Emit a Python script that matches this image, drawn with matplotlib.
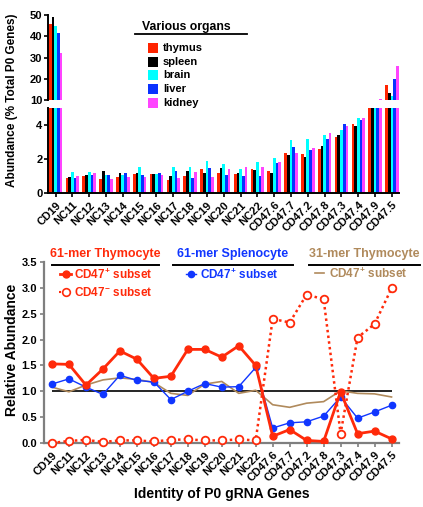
"""
P0 gRNA abundance across organs (top) and relative abundance in sorted
thymocyte / splenocyte subsets (bottom).
"""

import numpy as np
import matplotlib
matplotlib.use("Agg")
import matplotlib.pyplot as plt
from matplotlib.lines import Line2D
from matplotlib.patches import Rectangle

plt.rcParams["font.family"] = ["Liberation Sans", "DejaVu Sans"]
plt.rcParams["font.weight"] = "bold"
plt.rcParams["mathtext.fontset"] = "custom"
plt.rcParams["mathtext.rm"] = "Liberation Sans:bold"
plt.rcParams["mathtext.bf"] = "Liberation Sans:bold"
plt.rcParams["mathtext.default"] = "bf"

W, H = 423, 507

# ---------------------------------------------------------------------------
# Data
# ---------------------------------------------------------------------------

genes = ["CD19", "NC11", "NC12", "NC13", "NC14", "NC15", "NC16", "NC17",
         "NC18", "NC19", "NC20", "NC21", "NC22", "CD47.6", "CD47.7",
         "CD47.2", "CD47.8", "CD47.3", "CD47.4", "CD47.9", "CD47.5"]

# % of total P0 genes per organ
organs = ["thymus", "spleen", "brain", "liver", "kidney"]
thymus = [45.8, 0.89, 0.99, 0.81, 0.93, 1.11, 1.11, 0.75, 0.99, 1.41, 1.17,
          1.11, 1.41, 1.29, 2.36, 2.30, 2.59, 3.31, 4.08, 8.2, 17.1]
spleen = [49.0, 0.93, 1.05, 1.31, 1.17, 1.17, 1.11, 0.99, 1.31, 1.19, 1.47,
          1.17, 1.35, 1.17, 2.24, 2.12, 2.77, 3.43, 3.96, 7.6, 13.3]
brain = [44.8, 1.25, 1.25, 1.05, 1.05, 1.52, 1.11, 1.52, 1.52, 1.88, 1.70,
         1.41, 1.82, 2.06, 3.13, 3.19, 3.43, 3.72, 4.44, 8.0, 11.9]
liver = [41.5, 0.89, 1.05, 1.05, 1.19, 1.05, 1.19, 1.31, 0.87, 1.47, 1.05,
         0.99, 0.99, 1.76, 2.71, 2.53, 3.19, 4.08, 4.32, 9.0, 19.9]
kidney = [32.3, 0.99, 1.19, 0.81, 0.93, 0.93, 1.05, 0.87, 1.25, 0.93, 1.41,
          1.52, 1.52, 1.82, 2.36, 2.65, 3.54, 3.96, 4.44, 10.4, 26.0]
organ_colors = ["#ff2400", "#000000", "#00ffff", "#0a32ff", "#ff44ff"]

# relative abundance in sorted subsets
thy61_pos = [1.53, 1.52, 1.12, 1.43, 1.78, 1.62, 1.25, 1.29, 1.81, 1.81, 1.66,
             1.88, 1.50, 0.13, 0.26, 0.05, 0.03, 0.99, 0.18, 0.23, 0.08]
thy61_neg = [0.00, 0.04, 0.06, 0.02, 0.05, 0.05, 0.03, 0.06, 0.07, 0.05, 0.05,
             0.07, 0.05, 2.40, 2.33, 2.87, 2.78, 0.18, 2.04, 2.30, 2.99]
spl61_pos = [1.14, 1.24, 1.08, 0.94, 1.31, 1.21, 1.18, 0.84, 1.00, 1.15, 1.08,
             1.09, 1.46, 0.29, 0.39, 0.41, 0.52, 0.89, 0.48, 0.60, 0.73]
thy31_pos = [1.08, 0.99, 1.12, 1.22, 1.26, 1.23, 1.17, 0.96, 0.92, 1.14, 1.19,
             0.96, 1.02, 0.74, 0.69, 0.77, 0.80, 1.01, 0.96, 0.95, 0.89]

RED = "#ff2a0a"
BLUE = "#1036ff"
BROWN = "#b08a5c"
GREY = "#7f7f7f"


def fig_rect(x0, y0, x1, y1):
    """Pixel box (top-left origin) -> figure fraction rect."""
    return [x0 / W, 1 - y1 / H, (x1 - x0) / W, (y1 - y0) / H]


def fx(x):
    return x / W


def fy(y):
    return 1 - y / H


fig = plt.figure(figsize=(W / 100, H / 100), dpi=100)

# ---------------------------------------------------------------------------
# Top: grouped bars on a broken y axis
# ---------------------------------------------------------------------------

ax_hi = fig.add_axes(fig_rect(48, 15, 399, 100))
ax_lo = fig.add_axes(fig_rect(48, 108, 399, 193))

x = np.arange(len(genes))
bw = 0.16
series = [thymus, spleen, brain, liver, kidney]
for ax in (ax_hi, ax_lo):
    for i, (vals, c) in enumerate(zip(series, organ_colors)):
        ax.bar(x + (i - 2) * bw, vals, bw, color=c, linewidth=0)
    ax.set_xlim(-0.45, len(genes) - 0.58)
    for s in ("top", "right"):
        ax.spines[s].set_visible(False)
    ax.spines["left"].set_linewidth(1.4)
    ax.tick_params(axis="y", labelsize=8, width=1.2, length=3, pad=1)

ax_hi.set_ylim(10, 50)
ax_hi.set_yticks([10, 20, 30, 40, 50])
ax_hi.spines["bottom"].set_visible(False)
ax_hi.set_xticks([])

ax_lo.set_ylim(0, 5)
ax_lo.set_yticks([0, 2, 4])
ax_lo.spines["bottom"].set_linewidth(1.4)
ax_lo.set_xticks(x)
ax_lo.set_xticklabels(genes, rotation=45, ha="right", rotation_mode="anchor",
                      fontsize=8)
ax_lo.tick_params(axis="x", width=1.2, length=3, pad=2)

fig.text(fx(12), fy(100), "Abundance (% Total P0 Genes)", rotation=90,
         ha="center", va="center", fontsize=8.5)

# organ key
fig.text(fx(142), fy(27), "Various organs", fontsize=8.8, va="center")
fig.add_artist(Line2D([fx(135), fx(247)], [fy(34), fy(34)], color="black",
                      linewidth=1.3))
for k, (name, c) in enumerate(zip(organs, organ_colors)):
    yc = 48 + k * 13.7
    fig.add_artist(Rectangle((fx(148), fy(yc + 5)), 10 / W, 10 / H,
                             facecolor=c, edgecolor="none"))
    fig.text(fx(163), fy(yc), name, fontsize=8, va="center")

# ---------------------------------------------------------------------------
# Bottom: relative abundance lines
# ---------------------------------------------------------------------------

ax = fig.add_axes(fig_rect(44, 262, 399, 443))
ax.hlines(1.0, 0, len(genes) - 1, color="black", linewidth=1.2, zorder=1)
ax.plot(x, thy31_pos, color=BROWN, linewidth=1.2, zorder=2)
ax.plot(x, spl61_pos, color=BLUE, linewidth=1.0, marker="o", markersize=4.5,
        zorder=3)
ax.plot(x, thy61_neg, color=RED, linewidth=1.8, linestyle=(0, (1, 1.3)),
        marker="o", markersize=5.5, markerfacecolor="white",
        markeredgewidth=1.3, zorder=4, clip_on=False)
ax.plot(x, thy61_pos, color=RED, linewidth=2.0, marker="o", markersize=5,
        zorder=5)

ax.set_xlim(-0.47, len(genes) - 0.56)
ax.set_ylim(0, 3.5)
ax.set_yticks(np.arange(0, 3.51, 0.5))
ax.set_yticklabels([f"{v:.1f}" for v in np.arange(0, 3.51, 0.5)])
ax.set_xticks(x)
ax.set_xticklabels(genes, rotation=45, ha="right", rotation_mode="anchor",
                   fontsize=8)
for s in ("top", "right"):
    ax.spines[s].set_visible(False)
for s in ("left", "bottom"):
    ax.spines[s].set_color(GREY)
    ax.spines[s].set_linewidth(1.6)
ax.tick_params(axis="both", color=GREY, width=1.2, length=3, pad=2,
               labelsize=8)

fig.text(fx(12), fy(350), "Relative Abundance", rotation=90, ha="center",
         va="center", fontsize=10)
fig.text(fx(222), fy(494), "Identity of P0 gRNA Genes", ha="center",
         va="center", fontsize=10)

# subset key, one column per sort
groups = [("61-mer Thymocyte", RED, 52, 159),
          ("61-mer Splenocyte", BLUE, 173, 293),
          ("31-mer Thymocyte", BROWN, 309, 420)]
for title, c, x0, x1 in groups:
    fig.text(fx((x0 + x1) / 2), fy(254), title, color=c, fontsize=9,
             ha="center", va="center")
    fig.add_artist(Line2D([fx(x0), fx(x1)], [fy(264.5), fy(264.5)],
                          color="black", linewidth=1.4))

fig.add_artist(Line2D([fx(60), fx(71)], [fy(274), fy(274)], color=RED,
                      linewidth=2.0))
fig.add_artist(Line2D([fx(65.5)], [fy(274)], color=RED, marker="o",
                      markersize=5))
fig.text(fx(74), fy(275), "CD47$^{+}$ subset", color=RED, fontsize=8.5,
         va="center")
fig.add_artist(Line2D([fx(59), fx(72)], [fy(292), fy(292)], color=RED,
                      linewidth=1.5, linestyle=(0, (1, 1.3))))
fig.add_artist(Line2D([fx(65.5)], [fy(292)], color=RED, marker="o",
                      markersize=5.5, markerfacecolor="white",
                      markeredgewidth=1.2))
fig.text(fx(74), fy(293), "CD47$^{-}$ subset", color=RED, fontsize=8.5,
         va="center")

fig.add_artist(Line2D([fx(186), fx(196)], [fy(274), fy(274)], color=BLUE,
                      linewidth=1.0))
fig.add_artist(Line2D([fx(191)], [fy(274)], color=BLUE, marker="o",
                      markersize=4.5))
fig.text(fx(200), fy(275), "CD47$^{+}$ subset", color=BLUE, fontsize=8.5,
         va="center")

fig.add_artist(Line2D([fx(315), fx(324)], [fy(273), fy(273)], color=BROWN,
                      linewidth=1.2))
fig.text(fx(329), fy(274), "CD47$^{+}$ subset", color=BROWN, fontsize=8.5,
         va="center")

fig.savefig("out.png", dpi=100)
